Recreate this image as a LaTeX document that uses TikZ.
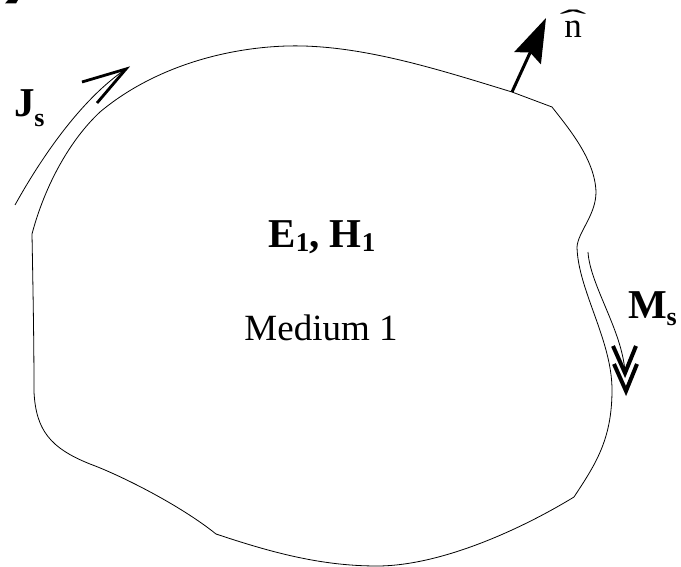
\documentclass[tikz,border=0pt]{standalone}
\usepackage{fontspec}
\usepackage{graphicx}
\setmainfont{Liberation Serif}
\usetikzlibrary{arrows.meta}
\begin{document}
\begin{tikzpicture}[x=1pt,y=-1pt,
  outline/.style={line width=0.8pt, line join=round, line cap=round},
  thinline/.style={line width=0.8pt},
  barb/.style={line width=2.8pt, line join=miter},
  chevron/.style={line width=4pt, line join=miter},
  lbl/.style={inner sep=0pt, outer sep=0pt},
  boldlbl/.style={lbl, font=\fontsize{41}{48}\selectfont\bfseries},
]
\useasboundingbox (0,0) rectangle (681,567);
% clipped fragment at the top-left corner
\fill (8,0) -- (18,0) -- (16,3.5) -- (5,3.5) -- cycle;

% boundary of medium 1
\draw[outline] (32,234) .. controls (33,290) and (34,340) .. (34,392)
  .. controls (36,430) and (50,448) .. (90,464)
  .. controls (120,475) and (180,505) .. (216,534)
  .. controls (270,552) and (320,566) .. (377,566)
  .. controls (440,566) and (520,530) .. (574,497)
  .. controls (595,465) and (612,440) .. (612,390)
  .. controls (612,340) and (578,290) .. (577,247)
  .. controls (578,232) and (596,215) .. (596,192)
  .. controls (595,160) and (570,130) .. (552,107)
  -- (512,92)
  .. controls (440,70) and (360,44) .. (287,46)
  .. controls (220,48) and (150,70) .. (100,112)
  .. controls (70,140) and (45,185) .. (32,234);

% J_s arrow
\coordinate (jstail) at (15,205);
\coordinate (jstip) at (126,69);
\draw[thinline] (jstail) .. controls (40,160) and (80,100) .. (jstip);
\draw[barb] (82,82) -- (jstip) -- (97,103);

% normal vector
\coordinate (nbase) at (512,92);
\coordinate (ntip) at (546,18);
\draw[line width=3pt, -{Stealth[length=44pt,width=29pt,inset=6pt]}] (nbase) -- (ntip);

% M_s arrow
\coordinate (mstail) at (588,252);
\coordinate (mshead) at (625,372);
\draw[thinline] (mstail) .. controls (590,285) and (622,330) .. (mshead);
\draw[chevron] (613,346) -- (625,373) -- (636,346);
\draw[chevron] (614,364) -- (626,391) -- (637,364);

% labels
\node[boldlbl, anchor=base west] (js) at (14,117)
  {J\raisebox{-10pt}{\fontsize{26}{30}\selectfont s}};
\node[boldlbl, anchor=base] (eh) at (322,248)
  {E\raisebox{-4pt}{\fontsize{27}{30}\selectfont 1}, H\raisebox{-4pt}{\fontsize{27}{30}\selectfont 1}};
\node[lbl, anchor=base, font=\fontsize{37}{44}\selectfont] (med) at (321,340) {Medium 1};
\node[boldlbl, anchor=base west] (ms) at (628,318)
  {M\raisebox{-8pt}{\fontsize{26}{30}\selectfont s}};
\node[lbl, anchor=base, font=\fontsize{35}{42}\selectfont] (nhat) at (573,38)
  {\ooalign{n\cr\hidewidth\raisebox{8pt}{\scalebox{2.3}[0.8]{\char"02C6}}\hidewidth\cr}};
\end{tikzpicture}
\end{document}
